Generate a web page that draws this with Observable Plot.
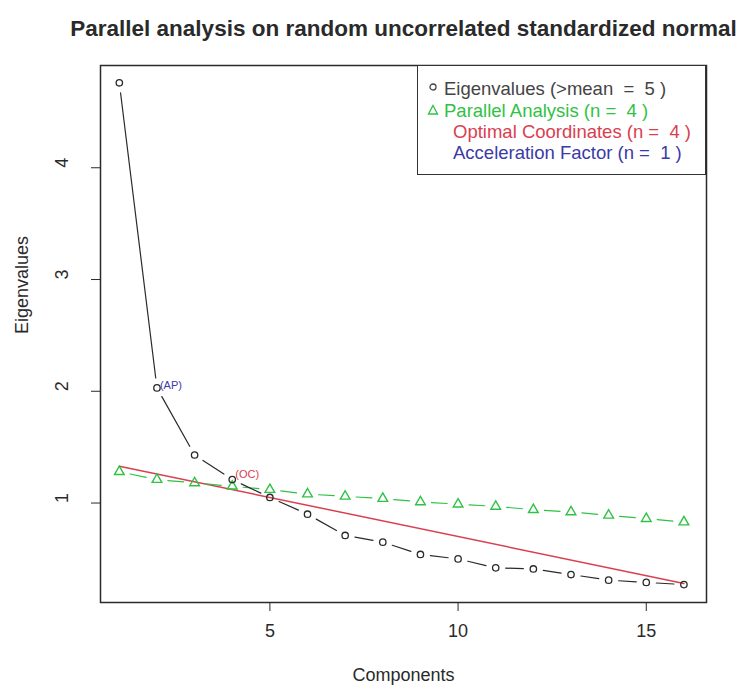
<!DOCTYPE html>
<html><head><meta charset="utf-8">
<script src="https://cdn.jsdelivr.net/npm/d3@7"></script>
<script src="https://cdn.jsdelivr.net/npm/@observablehq/plot@0.6"></script>
<style>
body{margin:0;background:#fff;font-family:"Liberation Sans",Arial,sans-serif;}
#wrap{position:relative;width:739px;height:692px;}
#wrap > svg{position:absolute;left:0;top:0;}
.legend{position:absolute;left:417px;top:65px;width:287px;height:108px;border:1.5px solid #333;background:#fff;}
.row{position:absolute;white-space:pre;font-size:18.5px;line-height:1;transform:translateY(-50%);}
.sym{position:absolute;transform:translate(-50%,-50%);line-height:0;}
.sym svg{display:block;}
</style></head><body><div id="wrap"></div>
<script>
const title = "Parallel analysis on random uncorrelated standardized normal";
const components = [1, 2, 3, 4, 5, 6, 7, 8, 9, 10, 11, 12, 13, 14, 15, 16];
const eigenvalues = [4.76, 2.03, 1.43, 1.21, 1.05, 0.90, 0.71, 0.65, 0.54, 0.50, 0.42, 0.41, 0.36, 0.31, 0.29, 0.27];
const parallel = [1.28, 1.21, 1.18, 1.15, 1.12, 1.08, 1.06, 1.04, 1.01, 0.99, 0.97, 0.94, 0.92, 0.89, 0.86, 0.83];
const ocComponents = [1, 16];
const ocValues = [1.33, 0.28];
const xTicks = [5, 10, 15];
const yTicks = [1, 2, 3, 4];
const legendItems = ["Eigenvalues (>mean  =  5 )", "Parallel Analysis (n =  4 )", "Optimal Coordinates (n =  4 )", "Acceleration Factor (n =  1 )"];

const GREEN = "#2fc244", RED = "#d9404f", BLUE = "#3a3aa8", INK = "#2a2a2a";

const eig = components.map((c, i) => ({c, v: eigenvalues[i]}));
const par = components.map((c, i) => ({c, v: parallel[i]}));
const oc = ocComponents.map((c, i) => ({c, v: ocValues[i]}));
const segs = arr => arr.slice(1).map((d, i) => ({x1: arr[i].c, y1: arr[i].v, x2: d.c, y2: d.v}));

const chart = Plot.plot({
  width: 739, height: 692,
  marginTop: 65, marginRight: 33, marginBottom: 90, marginLeft: 100,
  x: {domain: [0.5, 16.6]},
  y: {domain: [0.11, 4.915]},
  style: {fontFamily: "'Liberation Sans', Arial, sans-serif", background: "white", color: INK},
  marks: [
    Plot.line(oc, {x: "c", y: "v", stroke: RED, strokeWidth: 1.5}),
    Plot.arrow(segs(par), {x1: "x1", y1: "y1", x2: "x2", y2: "y2", headLength: 0, insetStart: 11, insetEnd: 11, stroke: GREEN, strokeWidth: 1.2}),
    Plot.dot(par, {x: "c", y: "v", symbol: "triangle", r: 3.6, stroke: GREEN, strokeWidth: 1.4, fill: "none"}),
    Plot.arrow(segs(eig), {x1: "x1", y1: "y1", x2: "x2", y2: "y2", headLength: 0, insetStart: 10, insetEnd: 10, stroke: INK, strokeWidth: 1.2}),
    Plot.dot(eig, {x: "c", y: "v", r: 3.2, stroke: INK, strokeWidth: 1.3, fill: "none"}),
    Plot.text([eig[1]], {x: "c", y: "v", text: () => "(AP)", dx: 3, dy: -2, textAnchor: "start", fill: BLUE, fontSize: 11}),
    Plot.text([eig[3]], {x: "c", y: "v", text: () => "(OC)", dx: 3, dy: -5, textAnchor: "start", fill: RED, fontSize: 11}),
    Plot.frame({stroke: INK, strokeWidth: 1.5}),
    Plot.axisX({ticks: xTicks, tickSize: 9, tickPadding: 13, fontSize: 18, label: null}),
    Plot.axisY({ticks: yTicks, tickSize: 9, tickFormat: () => "", label: null}),
    Plot.text(yTicks, {y: d => d, frameAnchor: "left", dx: -38, rotate: -90, text: d => String(d), fontSize: 18}),
    Plot.text(["Components"], {frameAnchor: "bottom", dy: 78, text: d => d, fontSize: 18}),
    Plot.text(["Eigenvalues"], {frameAnchor: "left", dx: -78, rotate: -90, text: d => d, fontSize: 18}),
    Plot.text([title], {frameAnchor: "top", dy: -45, text: d => d, fontWeight: "bold", fontSize: 22.5})
  ]
});
const wrap = document.getElementById("wrap");
wrap.appendChild(chart);

// legend
const lg = document.createElement("div");
lg.className = "legend";
const colors = ["#444", GREEN, RED, BLUE];
const rowsY = [23, 45, 66, 87];
const textX = [26, 26, 35, 35];
legendItems.forEach((t, i) => {
  const r = document.createElement("div");
  r.className = "row";
  r.style.left = textX[i] + "px";
  r.style.top = rowsY[i] + "px";
  r.style.color = colors[i];
  r.textContent = t;
  lg.appendChild(r);
});
const s1 = document.createElement("div");
s1.className = "sym"; s1.style.left = "15px"; s1.style.top = (rowsY[0] - 2) + "px";
s1.innerHTML = '<svg width="10" height="10"><circle cx="5" cy="5" r="3" fill="none" stroke="#444" stroke-width="1.3"/></svg>';
lg.appendChild(s1);
const s2 = document.createElement("div");
s2.className = "sym"; s2.style.left = "15px"; s2.style.top = (rowsY[1] - 1) + "px";
s2.innerHTML = '<svg width="12" height="12"><path d="M6,1.5 L10.5,10 L1.5,10 Z" fill="none" stroke="' + GREEN + '" stroke-width="1.3"/></svg>';
lg.appendChild(s2);
wrap.appendChild(lg);
</script></body></html>
